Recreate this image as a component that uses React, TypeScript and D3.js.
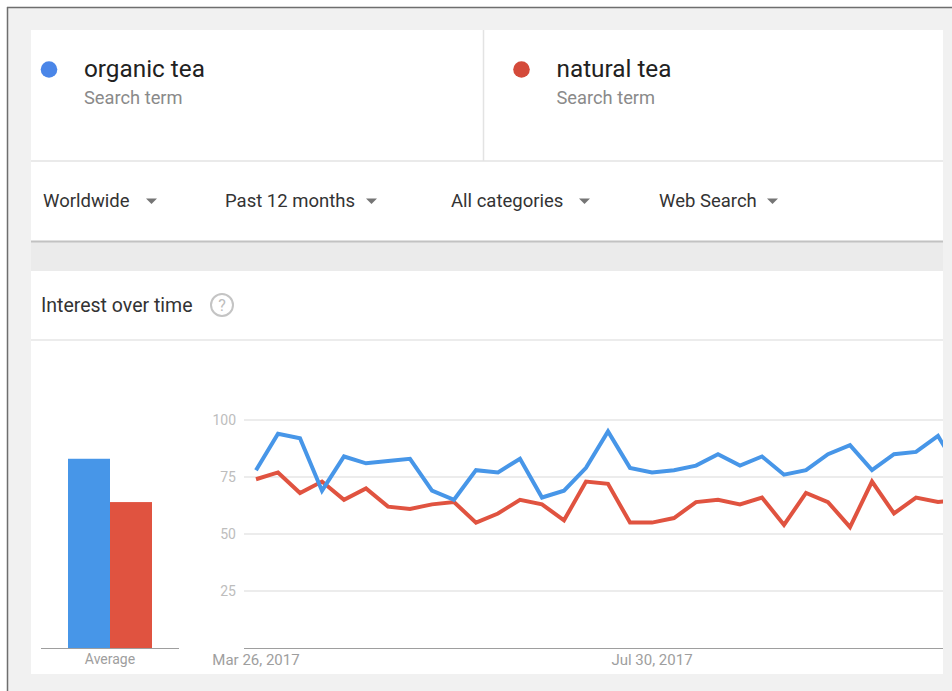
import React from "react";
import * as d3 from "d3";

const terms = ["organic tea", "natural tea"];
const termColors = ["#4a86e8", "#d44a3a"];
const lineColors = ["#4796e8", "#e05340"];
const filters = ["Worldwide", "Past 12 months", "All categories", "Web Search"];
const averages = [83, 64];
const organicTea = [78, 94, 92, 69, 84, 81, 82, 83, 69, 65, 78, 77, 83, 66, 69, 79, 95, 79, 77, 78, 80, 85, 80, 84, 76, 78, 85, 89, 78, 85, 86, 93, 77];
const naturalTea = [74, 77, 68, 73, 65, 70, 62, 61, 63, 64, 55, 59, 65, 63, 56, 73, 72, 55, 55, 57, 64, 65, 63, 66, 54, 68, 64, 53, 73, 59, 66, 64, 65];
const startDate = new Date(2017, 2, 26);
const weeks = d3.timeWeek.range(startDate, d3.timeWeek.offset(startDate, organicTea.length));
const yTicks = [25, 50, 75, 100];
const xTickDates = [new Date(2017, 2, 26), new Date(2017, 6, 30)];
const fmt = d3.timeFormat("%b %-d, %Y");

const FONT = "Roboto, 'Noto Sans', sans-serif";

export default function App() {
  const W = 952, H = 691;
  const y = d3.scaleLinear().domain([0, 100]).range([648, 420]);
  const x = d3.scaleTime().domain([weeks[0], weeks[weeks.length - 1]]).range([256, 256 + (weeks.length - 1) * 22]);
  const bx = d3.scaleBand().domain(terms).range([68, 152]).padding(0);
  const line = d3.line<number>().x((_, i) => x(weeks[i])).y((v) => y(v));
  const filterX = [43, 225, 451, 659];
  const triX = [146, 366, 579, 767];

  return (
    <svg width={W} height={H} style={{ position: "absolute", left: 0, top: 0 }} fontFamily={FONT}>
      <rect x={0} y={0} width={W} height={H} fill="#ffffff" />
      <rect x={7} y={7} width={W - 7} height={H - 7} fill="#f1f1f1" />
      <line x1={7.5} y1={7} x2={7.5} y2={H} stroke="#6e6e6e" strokeWidth={1.5} />
      <line x1={7} y1={7.5} x2={W} y2={7.5} stroke="#6e6e6e" strokeWidth={1.5} />

      {/* top card */}
      <rect x={31} y={242} width={912} height={29} fill="#ebebeb" />
      <rect x={31} y={30} width={912} height={211} fill="#ffffff" />
      <line x1={31} y1={241.5} x2={943} y2={241.5} stroke="#c2c2c2" strokeWidth={2} />
      <line x1={31} y1={161} x2={943} y2={161} stroke="#e3e3e3" strokeWidth={1.5} />
      <line x1={483.5} y1={30} x2={483.5} y2={161} stroke="#e3e3e3" strokeWidth={1.5} />

      {terms.map((t, i) => {
        const ox = i === 0 ? 0 : 472.5;
        return (
          <g key={t}>
            <circle cx={49 + ox} cy={69.5} r={8.3} fill={termColors[i]} />
            <text x={84 + ox} y={77} fontSize={24.3} fill="#212121">{t}</text>
            <text x={84 + ox} y={104} fontSize={18.3} fill="#8a8a8a">Search term</text>
          </g>
        );
      })}

      {filters.map((f, i) => (
        <g key={f}>
          <text x={filterX[i]} y={207} fontSize={18.5} fill="#333333">{f}</text>
          <path d={`M${triX[i]},198.5 L${triX[i] + 11},198.5 L${triX[i] + 5.5},204 Z`} fill="#757575" />
        </g>
      ))}

      {/* second card */}
      <rect x={31} y={271} width={912} height={403} fill="#ffffff" />
      <line x1={31} y1={340} x2={943} y2={340} stroke="#e6e6e6" strokeWidth={1.5} />
      <text x={41} y={312} fontSize={19.5} fill="#333333">Interest over time</text>
      <circle cx={222} cy={305} r={11} fill="none" stroke="#c4c4c4" strokeWidth={2} />
      <text x={222} y={311} fontSize={16} fill="#bdbdbd" textAnchor="middle">?</text>

      {/* average bars */}
      {terms.map((t, i) => (
        <rect key={t} x={bx(t)} y={y(averages[i])} width={bx.bandwidth()} height={y(0) - y(averages[i])} fill={lineColors[i]} />
      ))}
      <line x1={41} y1={648.5} x2={179} y2={648.5} stroke="#9e9e9e" strokeWidth={1} />
      <text x={110} y={664} fontSize={14} fill="#9e9e9e" textAnchor="middle">Average</text>

      {/* line chart */}
      <defs>
        <clipPath id="plotclip">
          <rect x={244} y={400} width={943 - 244} height={260} />
        </clipPath>
      </defs>
      {yTicks.map((t) => (
        <g key={t}>
          <line x1={244} y1={y(t)} x2={943} y2={y(t)} stroke="#e6e6e6" strokeWidth={1.5} />
          <text x={236} y={y(t) + 5} fontSize={14} fill="#bdbdbd" textAnchor="end">{t}</text>
        </g>
      ))}
      <line x1={244} y1={648.5} x2={943} y2={648.5} stroke="#9e9e9e" strokeWidth={1} />
      {xTickDates.map((d) => (
        <text key={+d} x={x(d)} y={665} fontSize={15} fill="#9e9e9e" textAnchor="middle">{fmt(d)}</text>
      ))}
      <g clipPath="url(#plotclip)">
        <path d={line(naturalTea) || ""} fill="none" stroke={lineColors[1]} strokeWidth={4} strokeLinejoin="miter" />
        <path d={line(organicTea) || ""} fill="none" stroke={lineColors[0]} strokeWidth={4} strokeLinejoin="miter" />
      </g>
    </svg>
  );
}
